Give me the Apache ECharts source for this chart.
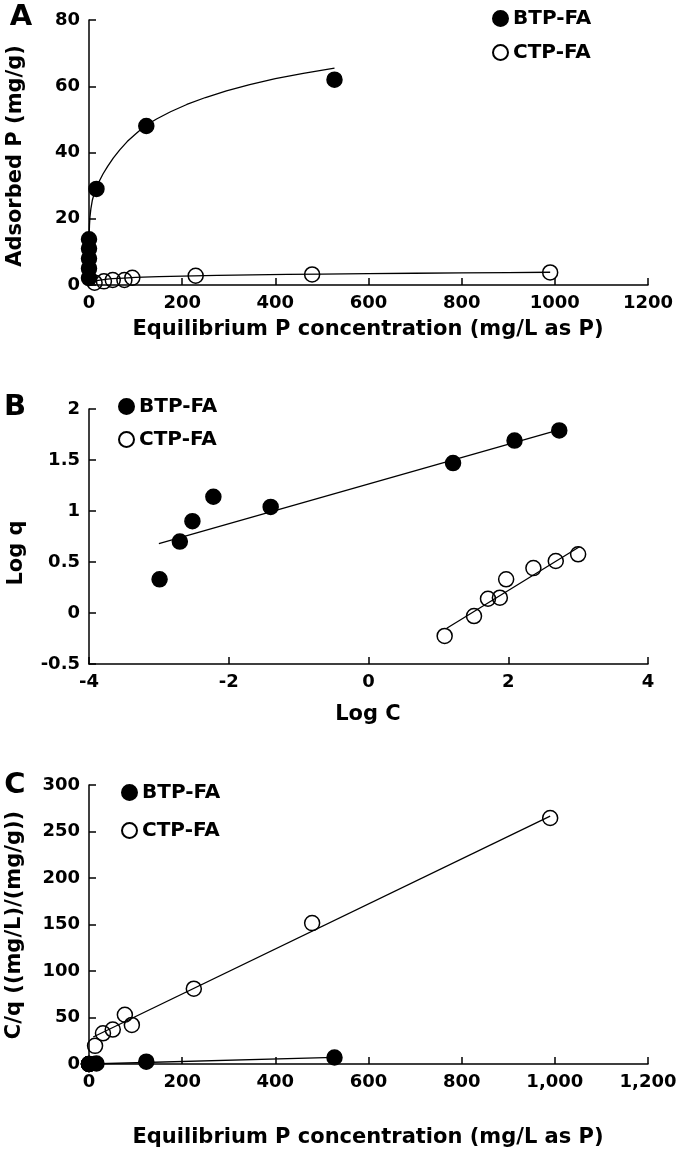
<!DOCTYPE html>
<html>
<head>
<meta charset="utf-8">
<script src="https://cdn.jsdelivr.net/npm/echarts@6/dist/echarts.min.js"></script>
<style>
html,body{margin:0;padding:0;background:#fff;}
#chart{width:685px;height:1158px;}
</style>
</head>
<body>
<div id="chart"></div>
<script>
// ---------- Data ----------
const seriesNames = ['BTP-FA', 'CTP-FA'];

// Panel A: adsorbed P vs equilibrium concentration
const aBtpC = [0.001, 0.002, 0.003, 0.006, 0.04, 16, 123, 527];
const aBtpQ = [2.1, 5.0, 8.0, 13.8, 11.0, 29, 48, 62];
const aCtpC = [12, 32, 51, 76, 93, 229, 479, 990];
const aCtpQ = [0.7, 1.1, 1.5, 1.5, 2.2, 2.8, 3.2, 3.8];
// fitted curves as traced in panel A
const aBtpFitC = [0, 0.05, 0.2, 0.5, 1, 2, 4, 7, 11, 16, 22, 30, 40, 52, 66, 82, 100, 120, 145, 175, 210, 250, 295, 345, 400, 460, 527];
const aBtpFitQ = [0, 10, 13, 15.5, 18, 20.5, 23, 25.5, 27.5, 29.3, 31.3, 33.5, 35.8, 38.3, 40.8, 43.3, 45.6, 48, 50.1, 52.3, 54.5, 56.6, 58.6, 60.5, 62.3, 63.9, 65.5];
const aCtpFitC = [10, 20, 35, 50, 75, 100, 150, 200, 275, 350, 425, 500, 600, 700, 800, 900, 990];
const aCtpFitQ = [1.0, 1.4, 1.7, 1.9, 2.1, 2.3, 2.5, 2.7, 2.9, 3.05, 3.18, 3.3, 3.43, 3.55, 3.65, 3.75, 3.85];

// Panel B: Log q vs Log C
const bBtpX = [-2.99, -2.70, -2.52, -2.22, -1.40, 1.21, 2.09, 2.73];
const bBtpY = [0.33, 0.70, 0.90, 1.14, 1.04, 1.47, 1.69, 1.79];
const bBtpFitX = [-3.0, 2.75];
const bBtpFitY = [0.68, 1.80];
const bCtpX = [1.09, 1.51, 1.71, 1.88, 1.97, 2.36, 2.68, 3.00];
const bCtpY = [-0.225, -0.03, 0.14, 0.15, 0.33, 0.44, 0.51, 0.575];
const bCtpFitX = [1.12, 3.02];
const bCtpFitY = [-0.15, 0.65];

// Panel C: C/q vs C
const cBtpX = [0.001, 0.002, 0.003, 0.006, 0.04, 16, 123, 527];
const cBtpY = [0, 0, 0, 0, 0, 0.55, 2.5, 7.0];
const cBtpFitX = [0, 527];
const cBtpFitY = [0, 7.2];
const cCtpX = [13, 30, 51, 77, 92, 225, 479, 990];
const cCtpY = [19.5, 33, 37, 53, 42, 81, 151.5, 264.5];
const cCtpFitX = [9, 990];
const cCtpFitY = [29, 266.5];

// Axis tick settings
const aXTicks = {min: 0, max: 1200, interval: 200};
const aYTicks = {min: 0, max: 80, interval: 20};
const bXTicks = {min: -4, max: 4, interval: 2};
const bYTicks = {min: -0.5, max: 2, interval: 0.5};
const cXTicks = {min: 0, max: 1200, interval: 200};
const cYTicks = {min: 0, max: 300, interval: 50};

// Text
const panelLetters = ['A', 'B', 'C'];
const xTitles = ['Equilibrium P concentration (mg/L as P)', 'Log C', 'Equilibrium P concentration (mg/L as P)'];
const yTitles = ['Adsorbed P (mg/g)', 'Log q', 'C/q ((mg/L)/(mg/g))'];

// ---------- Chart ----------
const FF = 'DejaVu Sans';
const zip = (xs, ys) => xs.map((x, i) => [x, ys[i]]);

const plainFmt = v => String(v);
const commaFmt = v => Number(v).toLocaleString('en-US');

function axis(idx, ticks, fmt) {
  return {
    type: 'value', gridIndex: idx,
    min: ticks.min, max: ticks.max, interval: ticks.interval,
    splitLine: {show: false},
    axisLine: {show: true, onZero: false, lineStyle: {color: '#000', width: 1.5}},
    axisTick: {show: true, inside: true, length: 7, lineStyle: {color: '#000', width: 1.5}},
    axisLabel: {
      color: '#000', fontFamily: FF, fontWeight: 'bold', fontSize: 18, margin: 9,
      formatter: fmt || plainFmt
    }
  };
}

const filled = {color: '#000', borderColor: '#000', borderWidth: 1.5, opacity: 1};
const open = {color: 'rgba(255,255,255,0)', borderColor: '#000', borderWidth: 1.5, opacity: 1};

function scatter(name, idx, xs, ys, style) {
  return {
    type: 'scatter', name: name, xAxisIndex: idx, yAxisIndex: idx,
    data: zip(xs, ys), symbol: 'circle', symbolSize: 15,
    itemStyle: style, z: 5, silent: true
  };
}
function fit(name, idx, xs, ys) {
  return {
    type: 'line', name: name, xAxisIndex: idx, yAxisIndex: idx,
    data: zip(xs, ys), showSymbol: false, symbol: 'none', smooth: false,
    lineStyle: {color: '#000', width: 1.3}, z: 3, silent: true
  };
}

function legend(left, top, gap) {
  return {
    data: seriesNames, orient: 'vertical', left: left, top: top, padding: 0,
    itemWidth: 15, itemHeight: 15, itemGap: gap, icon: 'circle',
    textStyle: {color: '#000', fontFamily: FF, fontWeight: 'bold', fontSize: 20, lineHeight: 21},
    selectedMode: false
  };
}

function txt(x, y, s, size, rot) {
  return {
    type: 'text', x: x, y: y, rotation: rot || 0,
    style: {text: s, fill: '#000', font: 'bold ' + size + 'px "' + FF + '"', align: 'center', verticalAlign: 'middle'}
  };
}

const option = {
  animation: false,
  backgroundColor: '#fff',
  grid: [
    {left: 89, top: 20, width: 559, height: 265},
    {left: 89, top: 409, width: 559, height: 255},
    {left: 89, top: 785, width: 559, height: 279}
  ],
  xAxis: [axis(0, aXTicks), axis(1, bXTicks), axis(2, cXTicks, commaFmt)],
  yAxis: [axis(0, aYTicks), axis(1, bYTicks), axis(2, cYTicks)],
  legend: [legend(492, 8, 13), legend(118, 396, 12), legend(121, 782, 17)],
  series: [
    fit('A BTP fit', 0, aBtpFitC, aBtpFitQ),
    fit('A CTP fit', 0, aCtpFitC, aCtpFitQ),
    scatter(seriesNames[0], 0, aBtpC, aBtpQ, filled),
    scatter(seriesNames[1], 0, aCtpC, aCtpQ, open),
    fit('B BTP fit', 1, bBtpFitX, bBtpFitY),
    fit('B CTP fit', 1, bCtpFitX, bCtpFitY),
    scatter(seriesNames[0], 1, bBtpX, bBtpY, filled),
    scatter(seriesNames[1], 1, bCtpX, bCtpY, open),
    fit('C BTP fit', 2, cBtpFitX, cBtpFitY),
    fit('C CTP fit', 2, cCtpFitX, cCtpFitY),
    scatter(seriesNames[0], 2, cBtpX, cBtpY, filled),
    scatter(seriesNames[1], 2, cCtpX, cCtpY, open)
  ],
  graphic: [
    txt(21, 17, panelLetters[0], 29),
    txt(15, 407, panelLetters[1], 29),
    txt(15, 785, panelLetters[2], 29),
    txt(16, 156, yTitles[0], 21, Math.PI / 2),
    txt(17, 553, yTitles[1], 21, Math.PI / 2),
    txt(15, 925, yTitles[2], 21, Math.PI / 2),
    txt(368, 330, xTitles[0], 21),
    txt(368, 715, xTitles[1], 21),
    txt(368, 1138, xTitles[2], 21)
  ]
};

const chart = echarts.init(document.getElementById('chart'), null, {renderer: 'canvas'});
chart.setOption(option);
</script>
</body>
</html>
